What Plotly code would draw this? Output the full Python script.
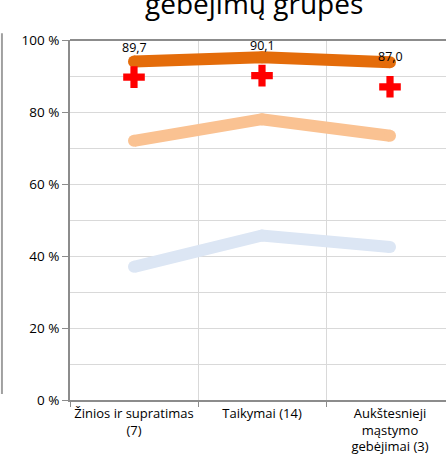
import plotly.graph_objects as go

categories = ["Žinios ir supratimas<br>(7)", "Taikymai (14)", "Aukštesnieji<br>mąstymo<br>gebėjimai (3)"]
dark_orange = [94.0, 95.2, 93.8]
light_orange = [72.0, 78.0, 73.4]
light_blue = [37.0, 45.7, 42.5]
red_cross = [89.7, 90.1, 87.0]
cross_labels = ["89,7", "90,1", "87,0"]
y_ticks = [0, 20, 40, 60, 80, 100]
y_tick_text = ["0 %", "20 %", "40 %", "60 %", "80 %", "100 %"]

font = "Open Sans, Liberation Sans, sans-serif"

fig = go.Figure()
for vals, col in [(light_blue, "#DCE6F4"), (light_orange, "#FAC292"), (dark_orange, "#E46C0A")]:
    fig.add_trace(go.Scatter(x=categories, y=vals, mode="lines+markers",
                             line=dict(color=col, width=12),
                             marker=dict(color=col, size=12, line=dict(width=0)),
                             showlegend=False))
fig.add_trace(go.Scatter(x=categories, y=red_cross, mode="markers",
                         marker=dict(symbol="cross", size=18, color="#FF0000",
                                     line=dict(width=0)), showlegend=False))

for c, v, t in zip(categories, red_cross, cross_labels):
    fig.add_annotation(x=c, y=v, text=t, showarrow=False, yshift=30,
                       font=dict(family=font, size=12.5, color="#000000"))

fig.add_annotation(text="gebėjimų grupės", xref="paper", yref="paper",
                   x=0.5, y=1, xanchor="center", yanchor="bottom", yshift=16, xshift=-4,
                   showarrow=False, font=dict(family=font, size=28, color="#000000"))

# outer frame line on the left
fig.add_shape(type="line", xref="paper", yref="paper", x0=-0.181, x1=-0.181,
              y0=0.017, y1=1.019, line=dict(color="#A0A0A0", width=2))

fig.update_layout(
    width=446, height=467,
    margin=dict(l=70, r=0, t=40, b=67, autoexpand=False),
    paper_bgcolor="white", plot_bgcolor="white",
    font=dict(family=font, size=12, color="#000000"),
    xaxis=dict(type="category", range=[-0.5, 2.4375], tickson="boundaries",
               showgrid=True, gridcolor="#D9D9D9", gridwidth=1, automargin=False,
               showline=True, linecolor="#8C8C8C", linewidth=2, tickangle=0,
               ticks="outside", ticklen=5, tickcolor="#8C8C8C",
               tickfont=dict(family=font, size=13)),
    yaxis=dict(range=[0, 100], tickvals=y_ticks, ticktext=y_tick_text,
               showgrid=True, gridcolor="#D9D9D9", gridwidth=1, automargin=False,
               minor=dict(dtick=10, showgrid=True, gridcolor="#D9D9D9", ticks=""),
               showline=True, linecolor="#8C8C8C", linewidth=2,
               ticks="outside", ticklen=6, tickcolor="#8C8C8C",
               tickfont=dict(family=font, size=13.5), zeroline=False),
)
fig.add_shape(type="line", xref="paper", yref="paper", x0=0, x1=1, y0=1, y1=1,
              line=dict(color="#8C8C8C", width=2))

fig.write_html("out.html", config={"displayModeBar": False},
               post_script="document.body.style.margin='0';")
